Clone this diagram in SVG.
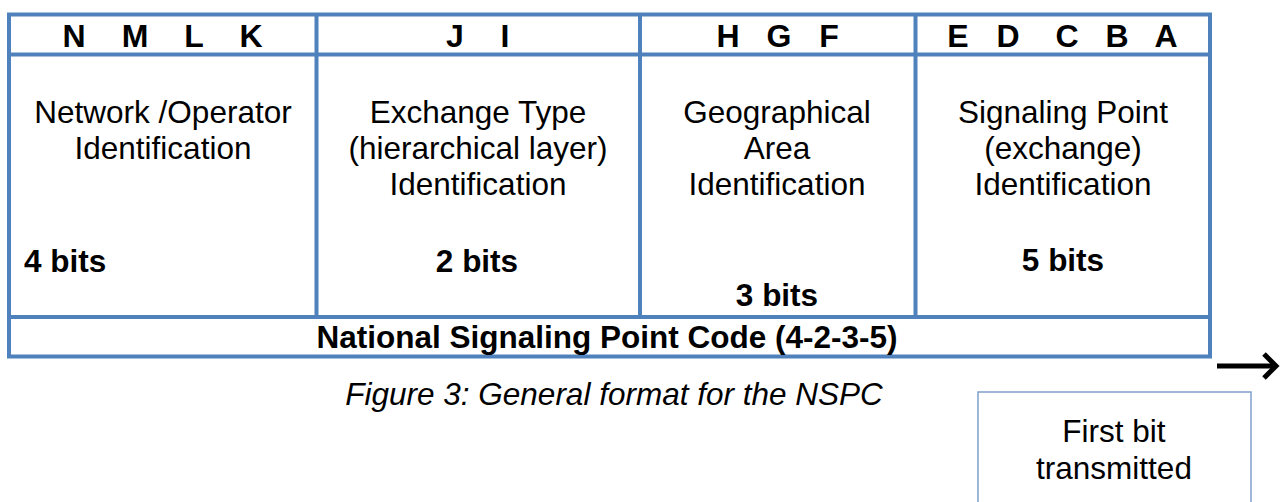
<svg xmlns="http://www.w3.org/2000/svg" width="1280" height="502" viewBox="0 0 1280 502">
<style>
.frame{fill:none;stroke:#4F81BD;stroke-width:4}
.line{stroke:#4F81BD;stroke-width:4}
.hdr{font-family:"Liberation Sans",Arial,sans-serif;font-weight:bold;font-size:32px;fill:#000;text-anchor:middle}
.body{font-family:"Liberation Sans",Arial,sans-serif;font-size:31.5px;fill:#000;text-anchor:middle}
.bits{font-family:"Liberation Sans",Arial,sans-serif;font-weight:bold;font-size:31.5px;fill:#000;text-anchor:middle}
.cap{font-family:"Liberation Sans",Arial,sans-serif;font-style:italic;font-size:31.5px;fill:#000;text-anchor:middle}
.note{fill:#fff;stroke:#7F9FCC;stroke-width:1.5}
.arrow{fill:none;stroke:#000;stroke-width:5}
</style>
<g id="table">
<rect class="frame" x="9" y="14.5" width="1201" height="342"/>
<line class="line" x1="9" y1="54.5" x2="1210" y2="54.5"/>
<line class="line" x1="9" y1="317" x2="1210" y2="317"/>
<line class="line" x1="316.5" y1="14.5" x2="316.5" y2="317"/>
<line class="line" x1="640" y1="14.5" x2="640" y2="317"/>
<line class="line" x1="915.5" y1="14.5" x2="915.5" y2="317"/>
</g>
<g id="col-network">
<text class="hdr" x="74" y="47">N</text>
<text class="hdr" x="135" y="47">M</text>
<text class="hdr" x="194" y="47">L</text>
<text class="hdr" x="251" y="47">K</text>
<text class="body" x="163" y="123">Network /Operator</text>
<text class="body" x="163" y="159">Identification</text>
<text class="bits" x="24" y="272" style="text-anchor:start">4 bits</text>
</g>
<g id="col-exchange-type">
<text class="hdr" x="455" y="47">J</text>
<text class="hdr" x="505" y="47">I</text>
<text class="body" x="478" y="123">Exchange Type</text>
<text class="body" x="478" y="159">(hierarchical layer)</text>
<text class="body" x="478" y="195">Identification</text>
<text class="bits" x="477" y="272">2 bits</text>
</g>
<g id="col-area">
<text class="hdr" x="728" y="47">H</text>
<text class="hdr" x="779" y="47">G</text>
<text class="hdr" x="829" y="47">F</text>
<text class="body" x="777" y="123">Geographical</text>
<text class="body" x="777" y="159">Area</text>
<text class="body" x="777" y="195">Identification</text>
<text class="bits" x="777" y="306">3 bits</text>
</g>
<g id="col-signaling-point">
<text class="hdr" x="958" y="47">E</text>
<text class="hdr" x="1008" y="47">D</text>
<text class="hdr" x="1067" y="47">C</text>
<text class="hdr" x="1117" y="47">B</text>
<text class="hdr" x="1166" y="47">A</text>
<text class="body" x="1063" y="123">Signaling Point</text>
<text class="body" x="1063" y="159">(exchange)</text>
<text class="body" x="1063" y="195">Identification</text>
<text class="bits" x="1063" y="271">5 bits</text>
</g>
<g id="footer-row">
<text class="bits" x="607" y="348">National Signaling Point Code (4-2-3-5)</text>
</g>
<g id="connectors">
<line class="arrow" x1="1217" y1="366" x2="1275" y2="366"/>
<polyline class="arrow" points="1264,354 1276,366 1264,378"/>
</g>
<g id="caption">
<text class="cap" x="614" y="405">Figure 3: General format for the NSPC</text>
</g>
<g id="first-bit-note">
<rect class="note" x="978" y="392" width="273" height="130"/>
<text class="body" x="1114" y="442">First bit</text>
<text class="body" x="1114" y="479">transmitted</text>
</g>
</svg>
